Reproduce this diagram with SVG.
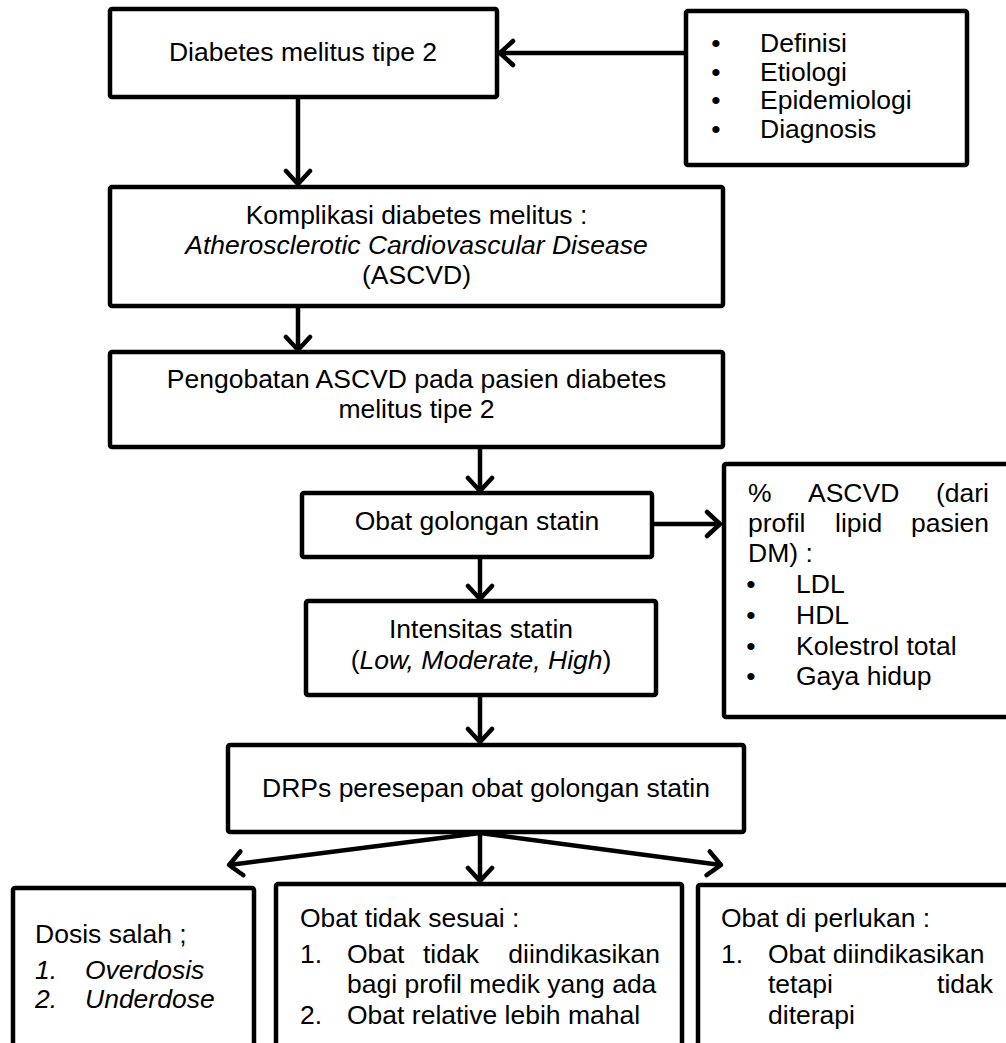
<svg xmlns="http://www.w3.org/2000/svg" width="1006" height="1043" viewBox="0 0 1006 1043">
<defs>
<style>
.box{fill:#fff;stroke:#000;stroke-width:4.5;stroke-linejoin:round}
.t{font-family:"Liberation Sans",Arial,sans-serif;font-size:26.5px;fill:#000}
.c{text-anchor:middle}
.i{font-style:italic}
.e{text-anchor:end}
.con{fill:none;stroke:#000;stroke-width:4.5}
</style>
<marker id="ah" markerUnits="userSpaceOnUse" markerWidth="32" markerHeight="32" viewBox="0 0 32 32" refX="16" refY="16" orient="auto">
<path d="M3,4 L16,16 L3,28" fill="none" stroke="#000" stroke-width="4.5" stroke-linecap="round" stroke-linejoin="round"/>
</marker>
</defs>
<rect width="1006" height="1043" fill="#fff"/>

<g id="connectors">
<line class="con" x1="686" y1="53" x2="500" y2="53" marker-end="url(#ah)"/>
<line class="con" x1="298" y1="97" x2="298" y2="184" marker-end="url(#ah)"/>
<line class="con" x1="298" y1="306" x2="298" y2="350" marker-end="url(#ah)"/>
<line class="con" x1="480" y1="447" x2="480" y2="491" marker-end="url(#ah)"/>
<line class="con" x1="652" y1="524" x2="720" y2="524" marker-end="url(#ah)"/>
<line class="con" x1="480" y1="557" x2="480" y2="599" marker-end="url(#ah)"/>
<line class="con" x1="480" y1="695" x2="480" y2="742" marker-end="url(#ah)"/>
<line class="con" x1="480" y1="833" x2="229" y2="865" marker-end="url(#ah)"/>
<line class="con" x1="480" y1="833" x2="480" y2="881" marker-end="url(#ah)"/>
<line class="con" x1="480" y1="833" x2="721" y2="865" marker-end="url(#ah)"/>
</g>

<g id="n1">
<rect class="box" x="110" y="9" width="387" height="88" rx="2"/>
<text class="t c" x="303" y="61">Diabetes melitus tipe 2</text>
</g>

<g id="n2">
<rect class="box" x="686" y="11" width="281" height="154" rx="2"/>
<text class="t c" x="716" y="52">•</text>
<text class="t" x="760" y="52">Definisi</text>
<text class="t c" x="716" y="80.5">•</text>
<text class="t" x="760" y="80.5">Etiologi</text>
<text class="t c" x="716" y="109">•</text>
<text class="t" x="760" y="109">Epidemiologi</text>
<text class="t c" x="716" y="137.5">•</text>
<text class="t" x="760" y="137.5">Diagnosis</text>
</g>

<g id="n3">
<rect class="box" x="110" y="187" width="613" height="119" rx="2"/>
<text class="t c" x="416.5" y="224">Komplikasi diabetes melitus :</text>
<text class="t c i" x="416.5" y="254">Atherosclerotic Cardiovascular Disease</text>
<text class="t c" x="416.5" y="284">(ASCVD)</text>
</g>

<g id="n4">
<rect class="box" x="110" y="352" width="613" height="95" rx="2"/>
<text class="t c" x="416.5" y="388">Pengobatan ASCVD pada pasien diabetes</text>
<text class="t c" x="416.5" y="418">melitus tipe 2</text>
</g>

<g id="n5">
<rect class="box" x="302" y="493" width="350" height="64" rx="2"/>
<text class="t c" x="477" y="530">Obat golongan statin</text>
</g>

<g id="n6">
<rect class="box" x="724" y="464" width="290" height="253" rx="2"/>
<text class="t" x="748" y="502">%</text>
<text class="t" x="808" y="502">ASCVD</text>
<text class="t e" x="989" y="502">(dari</text>
<text class="t" x="748" y="532">profil</text>
<text class="t" x="835" y="532">lipid</text>
<text class="t e" x="989" y="532">pasien</text>
<text class="t" x="748" y="562">DM) :</text>
<text class="t c" x="751" y="593">•</text>
<text class="t" x="796" y="593">LDL</text>
<text class="t c" x="751" y="624">•</text>
<text class="t" x="796" y="624">HDL</text>
<text class="t c" x="751" y="655">•</text>
<text class="t" x="796" y="655">Kolestrol total</text>
<text class="t c" x="751" y="685">•</text>
<text class="t" x="796" y="685">Gaya hidup</text>
</g>

<g id="n7">
<rect class="box" x="306" y="601" width="350" height="94" rx="2"/>
<text class="t c" x="481" y="638">Intensitas statin</text>
<text class="t c" x="481" y="669">(<tspan class="i">Low, Moderate, High</tspan>)</text>
</g>

<g id="n8">
<rect class="box" x="228" y="745" width="516" height="87" rx="2"/>
<text class="t c" x="486" y="797">DRPs peresepan obat golongan statin</text>
</g>

<g id="n9">
<rect class="box" x="13" y="888" width="241" height="170" rx="2"/>
<text class="t" x="35" y="943">Dosis salah ;</text>
<text class="t i" x="35" y="979">1.</text>
<text class="t i" x="85" y="979">Overdosis</text>
<text class="t i" x="35" y="1008">2.</text>
<text class="t i" x="85" y="1008">Underdose</text>
</g>

<g id="n10">
<rect class="box" x="276" y="884" width="406" height="174" rx="2"/>
<text class="t" x="300" y="927">Obat tidak sesuai :</text>
<text class="t" x="300" y="963">1.</text>
<text class="t" x="347" y="963">Obat</text>
<text class="t" x="423" y="963">tidak</text>
<text class="t e" x="660" y="963">diindikasikan</text>
<text class="t" x="347" y="993">bagi profil medik yang ada</text>
<text class="t" x="300" y="1024">2.</text>
<text class="t" x="347" y="1024">Obat relative lebih mahal</text>
</g>

<g id="n11">
<rect class="box" x="698" y="885" width="316" height="173" rx="2"/>
<text class="t" x="721" y="927">Obat di perlukan :</text>
<text class="t" x="721" y="963">1.</text>
<text class="t" x="768" y="963">Obat diindikasikan</text>
<text class="t" x="768" y="993">tetapi</text>
<text class="t e" x="993" y="993">tidak</text>
<text class="t" x="768" y="1024">diterapi</text>
</g>
</svg>
